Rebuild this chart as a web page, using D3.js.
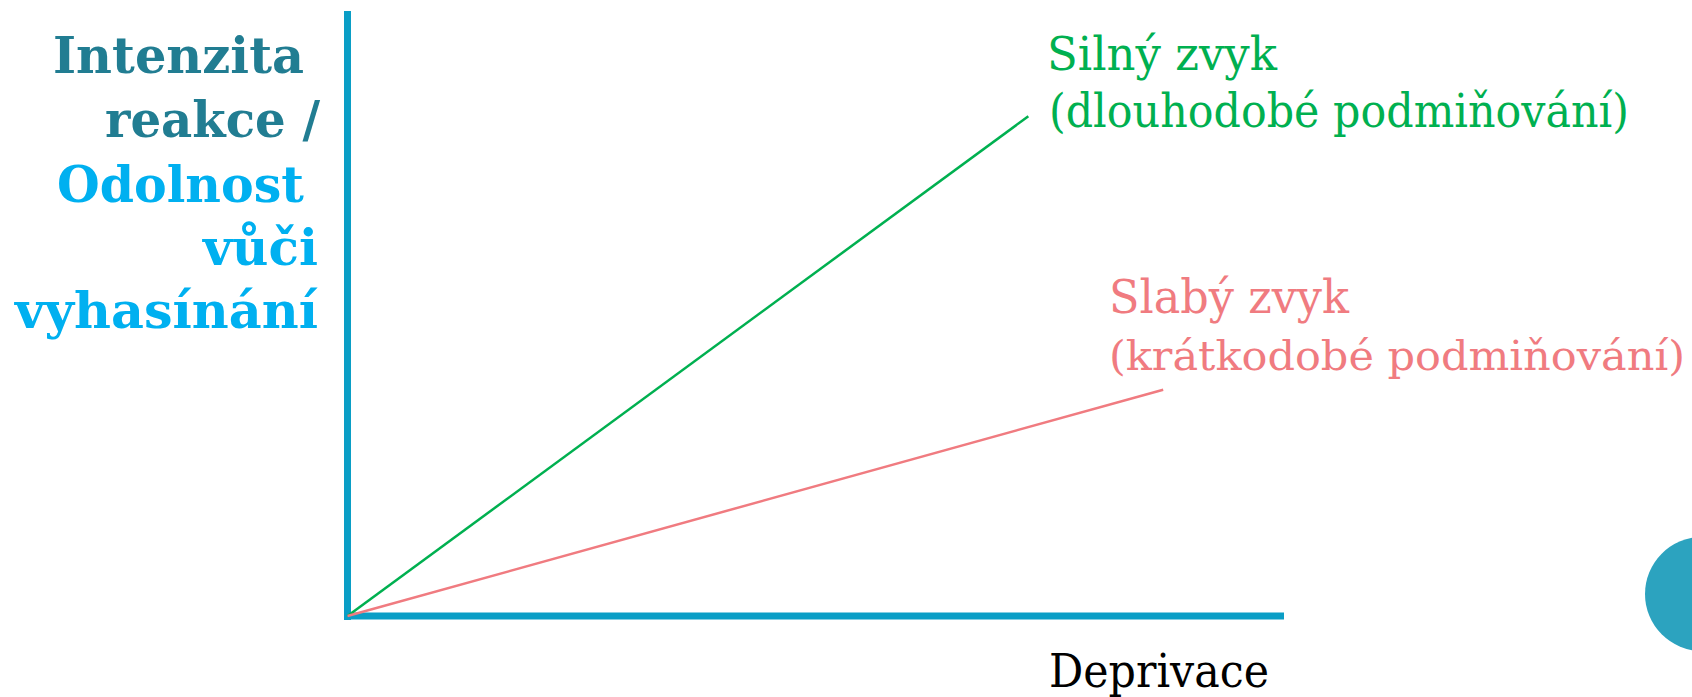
<!DOCTYPE html>
<html><head><meta charset="utf-8">
<script src="https://cdn.jsdelivr.net/npm/d3@7"></script>
<style>html,body{margin:0;padding:0;background:#fff;overflow:hidden}</style>
</head><body>
<svg id="c" width="1692" height="697"></svg>
<script>
// Data
const seriesNames = ["Silný zvyk", "Slabý zvyk"];
const strongLine = [{x:0,y:0},{x:7.27,y:8.26}];
const weakLine = [{x:0,y:0},{x:8.71,y:3.74}];
const strongLabel = ["Silný zvyk", "(dlouhodobé podmiňování)"];
const weakLabel = ["Slabý zvyk", "(krátkodobé podmiňování)"];
const xTitle = "Deprivace";
const yTitleTop = ["Intenzita", "reakce /"];
const yTitleBottom = ["Odolnost", "vůči", "vyhasínání"];

const svg = d3.select("#c");
const x = d3.scaleLinear().domain([0,10]).range([347.5,1284]);
const y = d3.scaleLinear().domain([0,10]).range([616,11]);
const font = "'DejaVu Serif', serif";

// axes
const axisColor = "#0a9ec6";
svg.append("line").attr("x1",x(0)).attr("x2",x(0)).attr("y1",y(10)).attr("y2",y(0)+4)
  .attr("stroke",axisColor).attr("stroke-width",7);
svg.append("line").attr("x1",x(0)-3.5).attr("x2",x(10)).attr("y1",y(0)).attr("y2",y(0))
  .attr("stroke",axisColor).attr("stroke-width",7);

const line = d3.line().x(d=>x(d.x)).y(d=>y(d.y));
svg.append("path").datum(strongLine).attr("d",line).attr("fill","none").attr("stroke","#00b050").attr("stroke-width",2.5);
svg.append("path").datum(weakLine).attr("d",line).attr("fill","none").attr("stroke","#f07b80").attr("stroke-width",2.5);

function addText(t, px, py, w, color, size, weight){
  svg.append("text").attr("x",px).attr("y",py).text(t)
    .attr("fill",color).attr("font-family",font).attr("font-size",size)
    .attr("font-weight",weight||"normal")
    .attr("textLength",w).attr("lengthAdjust","spacingAndGlyphs");
}
// y title
const yt = [
  [yTitleTop[0],53,73,251,"#217d92"],
  [yTitleTop[1],105,137,215,"#217d92"],
  [yTitleBottom[0],57,202,247,"#00b0f0"],
  [yTitleBottom[1],203,265,115,"#00b0f0"],
  [yTitleBottom[2],15,328,303,"#00b0f0"]
];
yt.forEach(d=>addText(d[0],d[1],d[2],d[3],d[4],50,"bold"));

addText(strongLabel[0],1047,70,230,"#00b050",46);
addText(strongLabel[1],1049,127,580,"#00b050",46);
addText(weakLabel[0],1109,313,240,"#f07b80",46);
addText(weakLabel[1],1109,370,576,"#f07b80",41);
addText(xTitle,1049,687,220,"#000",46);

// decorative circle
svg.append("circle").attr("cx",1702).attr("cy",594).attr("r",57).attr("fill","#2ca3bf");
</script>
</body></html>
